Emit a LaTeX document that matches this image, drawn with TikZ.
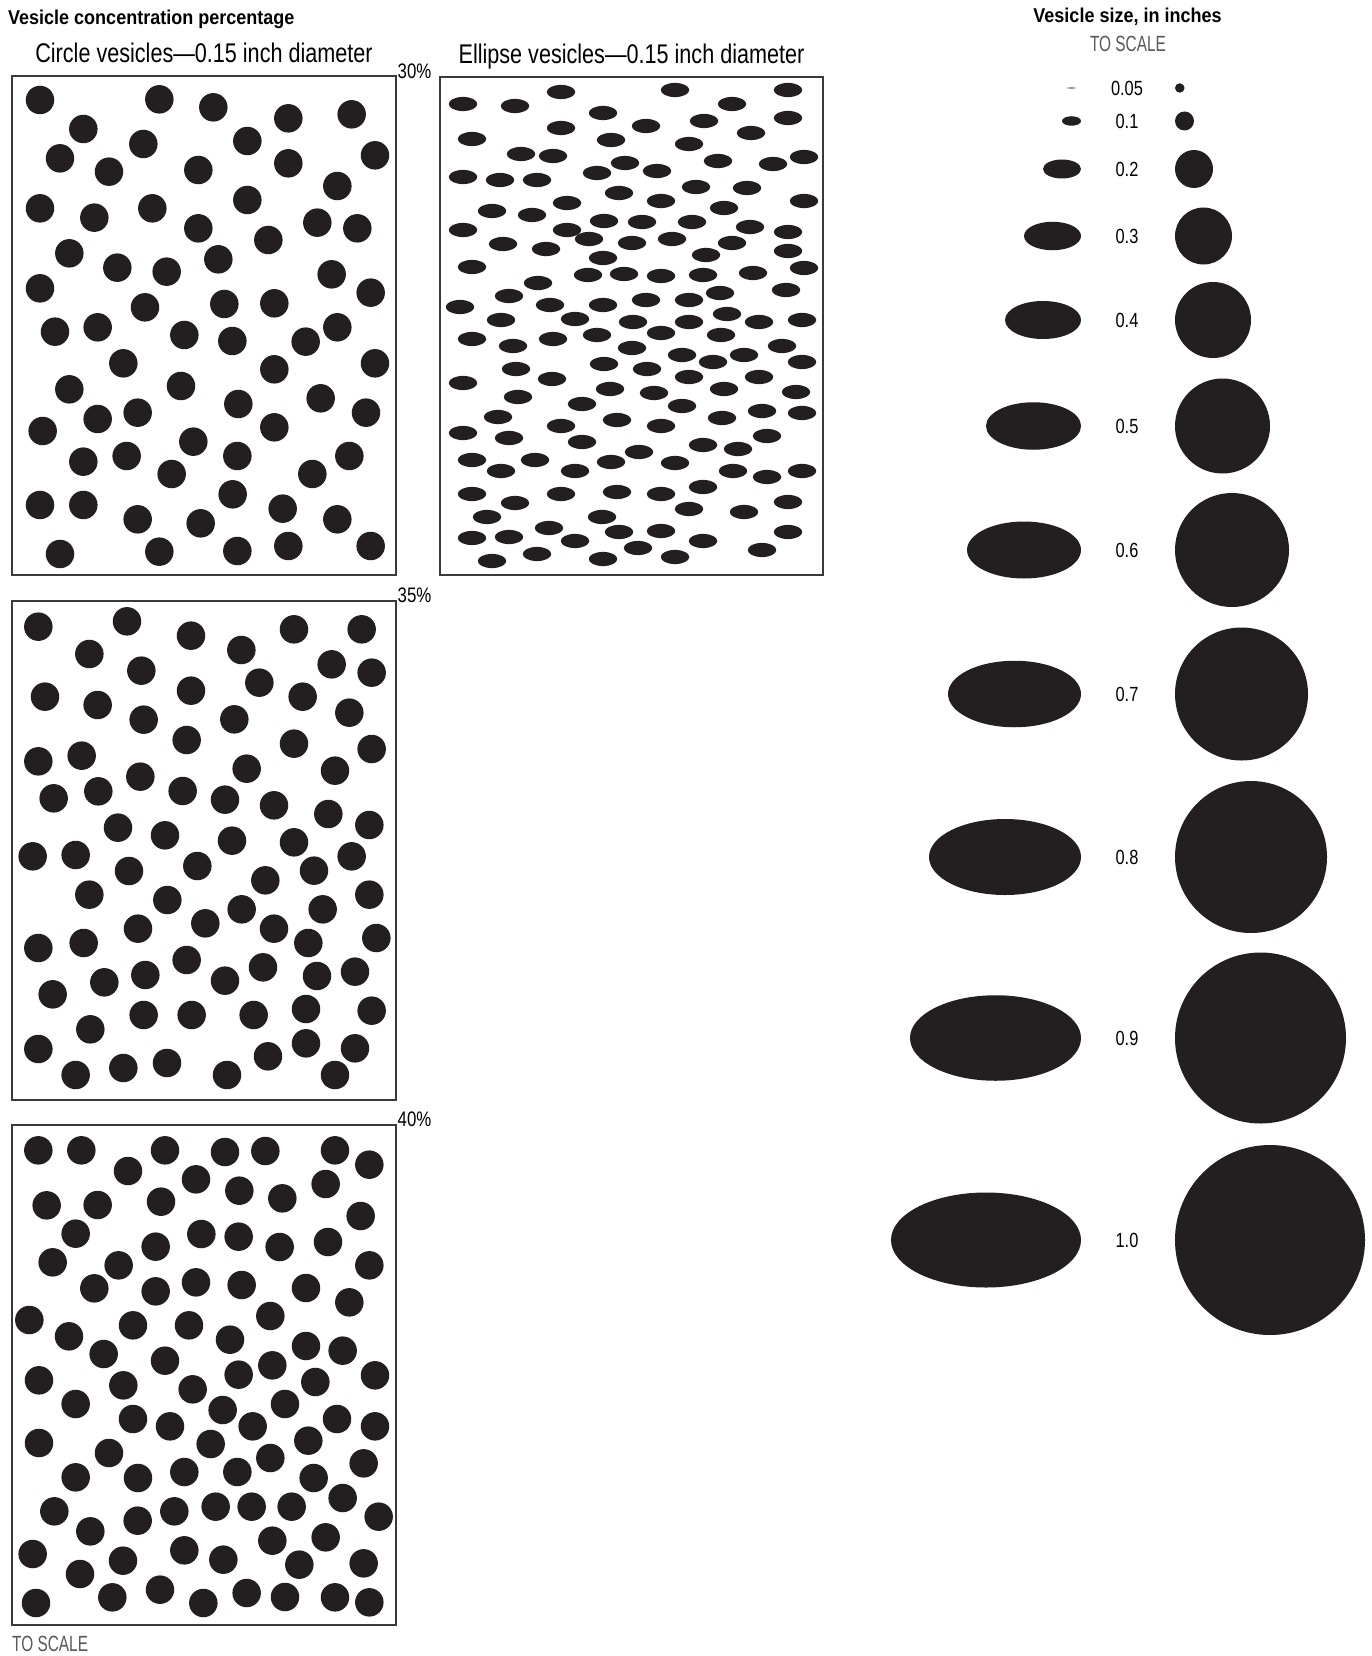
\documentclass[tikz,border=0pt]{standalone}
\usepackage{fontspec}
\setmainfont{Liberation Sans}
\newfontfamily\condfont[FakeStretch=0.8]{Liberation Sans}
\newfontfamily\narrowfont[FakeStretch=0.7]{Liberation Sans}
\newfontfamily\headbold[FakeStretch=0.9]{Liberation Sans Bold}
\definecolor{vesicleink}{HTML}{231F20}
\definecolor{frameline}{HTML}{3A3A3A}
\definecolor{scalegray}{HTML}{595959}
\tikzset{
  panelbox/.style={draw=frameline, line width=1.1pt},
  vdot/.style={fill=vesicleink},
  headfont/.style={font=\headbold\fontsize{20}{23}\selectfont, inner sep=0pt},
  titlefont/.style={font=\condfont\fontsize{27}{30}\selectfont, inner sep=0pt, anchor=base},
  pctlabel/.style={font=\condfont\fontsize{21}{23}\selectfont, inner sep=0pt, anchor=base west},
  sizelabel/.style={font=\condfont\fontsize{20.5}{22}\selectfont, inner sep=0pt},
  scalenote/.style={font=\narrowfont\fontsize{22}{24}\selectfont, text=scalegray, inner sep=0pt},
}

\begin{document}
\begin{tikzpicture}[x=1pt, y=-1pt]
  \useasboundingbox[fill=white] (0,0) rectangle (1372,1656);

  % headings
  \node[headfont, anchor=base west] (conchead) at (8,25) {Vesicle concentration percentage};
  \node[headfont, anchor=base] (sizehead) at (1127.5,23) {Vesicle size, in inches};
  \node[scalenote, anchor=base] (sizescale) at (1128,52) {TO SCALE};
  \node[titlefont] (circtitle) at (204,63) {Circle vesicles—0.15 inch diameter};
  \node[titlefont] (elltitle) at (631.5,64) {Ellipse vesicles—0.15 inch diameter};
  \node[scalenote, anchor=base west] (panelscale) at (12,1651) {TO SCALE};

  % circle vesicles, 30 percent
  \begin{scope}[shift={(5,70)}, x=0.33333pt, y=-0.33333pt]
    \foreach \px/\py in {105/90,463/88,625/112,850/145,1040/133,
      235/177,415/222,727/213,1110/256,165/265,312/305,580/300,850/280,997/348,
      105/415,268/443,442/415,727/390,580/475,937/458,1057/475,790/510,
      193/550,337/593,485/605,640/568,980/613,105/655,1097/668,420/712,658/702,808/700,
      150/785,278/772,538/795,682/813,902/815,997/772,355/880,808/898,1110/880,
      193/958,528/948,700/1002,947/985,1083/1028,278/1047,398/1028,113/1083,808/1072,
      565/1115,235/1175,365/1158,697/1158,1033/1158,500/1212,922/1212,
      105/1305,235/1305,683/1273,833/1316,398/1348,587/1360,997/1348,
      165/1452,463/1445,697/1443,850/1428,1097/1428}
      \fill[vdot] (\px,\py) circle[radius=14.25pt];
  \end{scope}
  \draw[panelbox] (12,76) rectangle (396,575);
  \node[pctlabel] (pct30) at (397.5,78.5) {30\%};

  % circle vesicles, 35 percent
  \begin{scope}[shift={(5,594)}, x=0.33333pt, y=-0.33333pt]
    \foreach \px/\py in {100/98,366/82,558/125,867/106,1070/106,
      253/180,709/168,980/211,409/230,1100/236,
      120/308,278/333,558/290,763/266,893/308,1033/356,
      416/377,688/376,545/438,867/449,1100/465,
      100/502,230/485,406/548,725/524,990/530,
      146/613,280/592,533/591,660/617,807/634,970/660,1093/693,
      339/701,480/724,681/740,867/745,83/787,212/783,372/831,577/816,1040/787,927/830,781/859,
      253/902,487/918,1093/902,710/946,953/946,
      399/1004,601/988,807/1004,100/1062,236/1047,910/1047,1114/1032,
      545/1098,774/1120,298/1165,421/1143,660/1160,936/1146,1050/1133,143/1201,
      416/1263,560/1263,746/1263,903/1245,1100/1250,256/1306,
      100/1365,903/1348,1050/1363,789/1387,212/1443,355/1422,486/1407,666/1443,990/1443}
      \fill[vdot] (\px,\py) circle[radius=14.25pt];
  \end{scope}
  \draw[panelbox] (12,601) rectangle (396,1100);
  \node[pctlabel] (pct35) at (397.5,602) {35\%};

  % circle vesicles, 40 percent
  \begin{scope}[shift={(5,1118)}, x=0.33333pt, y=-0.33333pt]
    \foreach \px/\py in {100/97,229/97,480/97,660/102,781/99,990/97,1093/140,
      369/159,573/184,703/218,962/198,125/262,278/261,468/251,832/241,1067/294,
      212/347,589/348,701/356,452/386,824/387,969/372,143/433,341/442,1093/442,
      268/511,452/520,573/493,710/501,903/510,1033/553,
      73/606,192/655,384/622,552/622,796/594,675/665,903/684,1013/698,
      296/708,480/728,802/742,701/770,102/787,355/802,563/814,931/792,1110/772,
      212/858,653/876,840/858,384/903,495/925,743/925,996/903,1110/925,
      102/975,617/978,910/968,312/1005,796/1020,1076/1036,
      212/1078,399/1080,538/1062,697/1062,926/1080,1013/1140,
      148/1180,508/1180,632/1166,740/1166,860/1166,1121/1196,398/1208,256/1240,
      802/1268,962/1258,83/1308,538/1297,655/1325,354/1328,883/1340,1076/1336,
      225/1368,93/1455,322/1438,465/1415,595/1455,725/1425,840/1437,990/1438,1093/1453}
      \fill[vdot] (\px,\py) circle[radius=14.25pt];
  \end{scope}
  \draw[panelbox] (12,1125) rectangle (396,1625);
  \node[pctlabel] (pct40) at (397.5,1126) {40\%};

  % ellipse vesicles, 30 percent
  \foreach \ex/\ey in {561/92,675/90,788/90,463/104,515/106,732/104,603/113,704/121,788/118,
    561/128,646/126,751/133,472/139,611/140,689/144,521/154,553/156,625/163,718/161,773/164,
    804/157,463/177,500/180,537/180,597/173,657/171,696/187,747/188,619/193,567/203,661/201,
    804/201,492/211,532/215,724/208,604/221,642/222,692/222,463/230,567/230,750/227,788/232,
    503/244,589/239,632/243,672/239,732/243,546/249,788/251,706/255,603/258,472/267,588/275,
    624/274,661/276,703/275,753/273,804/268,538/283,509/296,720/293,786/290,460/307,550/305,
    603/305,646/300,689/300,501/320,575/319,633/322,689/322,727/314,759/322,802/320,
    472/339,513/346,553/339,597/335,661/333,721/335,632/348,782/346,682/355,713/362,744/355,
    802/362,604/364,516/369,647/369,552/379,689/377,759/377,463/383,610/389,654/393,724/389,
    796/392,518/397,582/404,682/406,498/417,617/420,762/411,802/413,722/418,561/426,661/426,
    463/433,509/438,767/436,582/442,703/445,738/449,639/452,472/460,535/460,611/462,675/463,
    501/471,575/471,733/471,767/477,802/471,472/494,561/494,617/492,661/494,703/487,515/503,
    788/502,487/517,602/517,689/509,744/512,549/528,619/532,661/531,788/532,472/538,509/537,
    575/541,703/541,638/548,537/554,762/550,492/561,603/559,675/557}
    \fill[vdot] (\ex,\ey) ellipse[x radius=14.25pt, y radius=7.1pt];
  \draw[panelbox] (440,77) rectangle (823,575);

  % size scale: ellipse, label, circle
  \fill[scalegray] (1071.5,88) ellipse[x radius=4.75pt, y radius=0.6pt];
  \node[sizelabel] (sizelbl0) at (1127,88) {0.05};
  \fill[vdot] (1179.75,88) circle[radius=4.75pt];
  \foreach \s/\sy [count=\k] in {0.1/121,0.2/169,0.3/236,0.4/320,0.5/426,0.6/550,0.7/694,0.8/857,0.9/1038,1.0/1240}{
    \fill[vdot] (1081-95*\s,\sy) ellipse[x radius=95*\s pt, y radius=47.5*\s pt];
    \node[sizelabel] (sizelbl\k) at (1127,\sy) {\s};
    \fill[vdot] (1175+95*\s,\sy) circle[radius=95*\s pt];
  }
\end{tikzpicture}
\end{document}
